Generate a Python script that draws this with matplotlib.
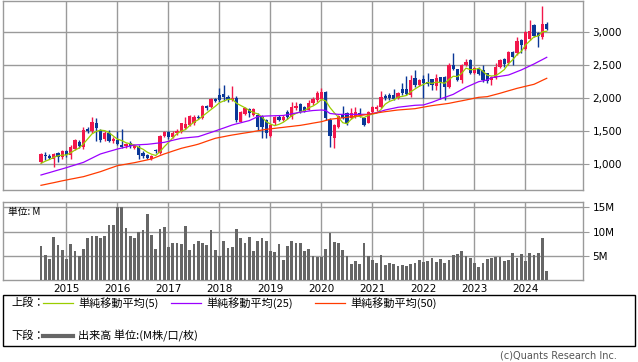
import numpy as np
import pandas as pd
import matplotlib
matplotlib.use('Agg')
import matplotlib.pyplot as plt
from matplotlib.lines import Line2D
from matplotlib.patches import Rectangle
from matplotlib.ticker import FuncFormatter

# monthly candles, 2014-07 .. 2024-06
opens = [1030, 1145, 1130, 1075, 1175, 1105,
         1200, 1140, 1235, 1345, 1260, 1530, 1500, 1630, 1520, 1380, 1480, 1360,
         1375, 1300, 1270, 1320, 1245, 1260, 1165, 1140, 1080, 1215, 1167, 1429,
         1495, 1409, 1470, 1495, 1545, 1590, 1621, 1722, 1697, 1884, 1874, 1985,
         2050, 2060, 2015, 1975, 2010, 1646, 1763, 1833, 1747, 1747, 1722, 1672,
         1430, 1620, 1722, 1672, 1798, 1722, 1848, 1914, 1874, 1830, 1924, 1975,
         1985, 2090, 1672, 1400, 1560, 1747, 1772, 1697, 1722, 1783, 1697, 1631,
         1798, 1834, 1864, 2040, 2050, 2050, 2010, 2136, 2136, 2050, 2303, 2202,
         2293, 2252, 2288, 2187, 2318, 2328, 2167, 2505, 2439, 2278, 2505, 2581,
         2389, 2444, 2429, 2379, 2278, 2303, 2480, 2591, 2530, 2707, 2682, 2884,
         2742, 2894, 3111, 2995, 2934, 3126]
highs = [1165, 1180, 1150, 1170, 1190, 1215,
         1215, 1290, 1380, 1370, 1570, 1570, 1720, 1695, 1540, 1510, 1520, 1410,
         1510, 1540, 1330, 1350, 1300, 1290, 1200, 1150, 1135, 1230, 1440, 1500,
         1510, 1500, 1530, 1630, 1712, 1745, 1740, 1745, 1900, 1900, 2000, 2000,
         2150, 2200, 2050, 2190, 2030, 1810, 1870, 1860, 1850, 1770, 1740, 1690,
         1610, 1725, 1740, 1740, 1820, 1950, 1950, 1935, 1890, 1970, 2015, 2115,
         2151, 2110, 1700, 1610, 1745, 1884, 1800, 1850, 1870, 1860, 1720, 1810,
         1890, 1900, 2116, 2070, 2080, 2136, 2090, 2227, 2338, 2353, 2429, 2300,
         2353, 2379, 2300, 2369, 2330, 2340, 2530, 2692, 2450, 2520, 2600, 2600,
         2470, 2480, 2505, 2390, 2340, 2530, 2600, 2610, 2720, 2720, 2934, 2900,
         3020, 3187, 3126, 3010, 3399, 3161]
lows = [1015, 1070, 1080, 965, 1040, 1080,
        1115, 1075, 1220, 1245, 1230, 1480, 1480, 1350, 1345, 1360, 1345, 1330,
        1290, 1240, 1240, 1250, 1230, 1080, 1100, 1080, 1070, 1170, 1150, 1420,
        1390, 1395, 1450, 1480, 1530, 1575, 1600, 1680, 1680, 1830, 1850, 1950,
        1940, 1960, 1950, 1960, 1640, 1640, 1745, 1715, 1730, 1520, 1400, 1400,
        1410, 1600, 1650, 1660, 1680, 1685, 1820, 1780, 1790, 1820, 1900, 1950,
        1970, 1670, 1268, 1250, 1545, 1680, 1600, 1680, 1700, 1720, 1580, 1620,
        1780, 1810, 1850, 1980, 1975, 1970, 1995, 2050, 2050, 2020, 2177, 2190,
        2010, 2187, 2126, 2126, 1985, 1975, 2150, 2430, 2260, 2237, 2490, 2369,
        2370, 2355, 2252, 2227, 2200, 2290, 2460, 2480, 2510, 2505, 2660, 2682,
        2730, 2880, 2930, 2783, 2900, 3030]
closes = [1150, 1120, 1100, 1160, 1115, 1200,
          1135, 1265, 1365, 1270, 1520, 1510, 1640, 1550, 1370, 1480, 1360, 1385,
          1310, 1265, 1315, 1280, 1290, 1140, 1120, 1090, 1125, 1195, 1429, 1495,
          1409, 1480, 1510, 1621, 1606, 1732, 1722, 1697, 1884, 1859, 1985, 1965,
          1975, 2015, 1975, 2000, 1665, 1798, 1848, 1773, 1833, 1570, 1570, 1480,
          1595, 1712, 1672, 1722, 1712, 1864, 1884, 1798, 1813, 1934, 1985, 2086,
          2100, 1697, 1430, 1596, 1732, 1697, 1621, 1772, 1798, 1747, 1596, 1798,
          1864, 1874, 2025, 2000, 2000, 1985, 2076, 2086, 2066, 2278, 2202, 2278,
          2227, 2217, 2202, 2303, 2252, 2167, 2505, 2444, 2278, 2505, 2555, 2389,
          2454, 2369, 2278, 2262, 2328, 2480, 2581, 2520, 2707, 2631, 2874, 2808,
          3010, 3020, 2944, 2944, 3126, 3045]
# closes of the 4 months before the first candle (for the 5-month average)
pre_close = [960, 975, 990, 1000]

# moving averages
ma25 = [838, 857, 875, 894, 913, 931,
        950, 970, 990, 1010, 1030, 1062, 1094, 1126, 1157, 1176, 1195, 1213,
        1232, 1247, 1262, 1278, 1293, 1296, 1300, 1303, 1310, 1318, 1325, 1333,
        1348, 1364, 1379, 1394, 1400, 1407, 1413, 1419, 1440, 1462, 1483, 1505,
        1528, 1550, 1573, 1596, 1613, 1629, 1646, 1662, 1692, 1722, 1727, 1732,
        1734, 1736, 1738, 1740, 1752, 1765, 1777, 1790, 1798, 1807, 1815, 1819,
        1823, 1815, 1770, 1763, 1757, 1757, 1757, 1757, 1757, 1757, 1757, 1757,
        1770, 1783, 1803, 1823, 1837, 1850, 1864, 1872, 1879, 1887, 1894, 1897,
        1899, 1920, 1940, 1965, 1990, 2013, 2037, 2060, 2096, 2131, 2167, 2195,
        2224, 2252, 2265, 2278, 2313, 2323, 2333, 2343, 2353, 2378, 2404, 2429,
        2459, 2490, 2520, 2554, 2587, 2621]
ma50 = [682, 695, 709, 722, 736, 750,
        763, 776, 788, 801, 813, 832, 851, 870, 889, 912, 935, 957,
        980, 991, 1002, 1014, 1025, 1039, 1053, 1067, 1081, 1106, 1132, 1157,
        1178, 1200, 1221, 1242, 1258, 1273, 1288, 1305, 1327, 1350, 1372, 1394,
        1407, 1419, 1432, 1444, 1454, 1465, 1475, 1485, 1496, 1508, 1519, 1530,
        1538, 1545, 1553, 1560, 1568, 1575, 1583, 1590, 1601, 1612, 1624, 1635,
        1646, 1664, 1682, 1690, 1697, 1705, 1712, 1721, 1730, 1739, 1748, 1757,
        1767, 1778, 1788, 1798, 1806, 1815, 1823, 1828, 1833, 1838, 1843, 1855,
        1866, 1878, 1889, 1898, 1906, 1915, 1924, 1937, 1950, 1962, 1975, 1988,
        2002, 2015, 2020, 2025, 2042, 2059, 2076, 2095, 2114, 2132, 2151, 2166,
        2182, 2197, 2212, 2242, 2273, 2303]

# volume, millions
volume = [7.1, 5.2, 4.4, 8.8, 7.3, 6.3,
          4.4, 7.5, 6.1, 5.0, 6.5, 8.6, 9.0, 9.0, 8.6, 9.0, 11.4, 11.4,
          15.1, 15.1, 10.8, 9.0, 8.6, 10.0, 10.4, 13.7, 9.4, 6.5, 10.6, 11.0,
          6.9, 7.7, 7.7, 7.5, 11.2, 6.3, 7.5, 8.1, 7.7, 7.3, 10.4, 6.3,
          5.0, 8.1, 6.7, 6.9, 10.6, 8.6, 7.7, 8.8, 6.1, 8.1, 8.6, 8.1,
          6.1, 5.9, 7.5, 4.2, 7.1, 8.1, 7.7, 7.7, 6.1, 6.5, 5.0, 4.8,
          4.8, 6.5, 9.8, 7.9, 7.7, 6.3, 5.0, 3.4, 4.0, 3.4, 7.7, 5.0,
          4.2, 3.6, 5.2, 3.2, 3.6, 3.4, 3.0, 3.2, 3.0, 3.4, 3.6, 4.2,
          3.8, 4.0, 4.6, 3.8, 4.4, 3.6, 4.2, 5.2, 5.4, 6.1, 5.0, 4.6,
          3.6, 2.8, 3.6, 4.4, 4.6, 4.8, 4.8, 4.0, 4.2, 5.7, 4.6, 5.4,
          4.0, 5.7, 5.2, 5.7, 8.6, 1.9]

years = [2015, 2016, 2017, 2018, 2019, 2020, 2021, 2022, 2023, 2024]

W, H = 638, 362
def fx(px):
    return px / W
def fy(py):
    return 1 - py / H

RED = '#f2174b'
BLUE = '#0a3797'
GRID = '#9a9a9a'
cjk = ['Noto Sans CJK JP', 'DejaVu Sans']

o = np.array(opens, float)
c = np.array(closes, float)
hi = np.array(highs, float)
lo = np.array(lows, float)
x = np.arange(len(c))
cols = np.where(c >= o, RED, BLUE)
ma5 = pd.Series(pre_close + closes, dtype=float).rolling(5).mean().values[len(pre_close):]
year_pos = [6 + 12 * k for k in range(len(years))]
xmin, xmax = -8.94, 127.46

fig = plt.figure(figsize=(6.38, 3.62), dpi=100)
ax = fig.add_axes([fx(3), fy(190), fx(582.7) - fx(3), (190 - 1) / H])
axv = fig.add_axes([fx(3), fy(280.3), fx(582.7) - fx(3), (280.3 - 201.7) / H])

# candles
ax.vlines(x, lo, hi, color=cols, lw=1, zorder=3)
body_h = np.maximum(np.abs(c - o), 8)
ax.bar(x, body_h, bottom=np.minimum(o, c), width=0.72, color=cols, linewidth=0, zorder=3)
ax.plot(x, ma5, color='#9acd00', lw=0.9, zorder=4)
ax.plot(x, ma25, color='#9b00ff', lw=0.9, zorder=4)
ax.plot(x, ma50, color='#ff3b00', lw=0.9, zorder=4)

ax.set_xlim(xmin, xmax)
ax.set_ylim(611, 3474)
ax.set_xticks(year_pos)
ax.set_xticklabels([])
ax.set_yticks([1000, 1500, 2000, 2500, 3000])
ax.yaxis.set_major_formatter(FuncFormatter(lambda v, p: f'{v:,.0f}'))
ax.yaxis.tick_right()
ax.tick_params(axis='x', length=0)
ax.tick_params(axis='y', length=4, color=GRID, labelsize=7.5, pad=3)
ax.grid(color=GRID, lw=1, zorder=0)

# volume
axv.bar(x, volume, width=0.62, color='#666666', zorder=3)
axv.set_xlim(xmin, xmax)
axv.set_ylim(0, 16.15)
axv.set_xticks(year_pos)
axv.set_xticklabels([str(y) for y in years])
axv.set_yticks([5, 10, 15])
axv.set_yticklabels(['5M', '10M', '15M'])
axv.yaxis.tick_right()
axv.tick_params(axis='x', length=0, labelsize=7.5, pad=3)
axv.tick_params(axis='y', length=4, color=GRID, labelsize=7.5, pad=3)
axv.grid(color=GRID, lw=1, zorder=0)
axv.text(0.008, 0.93, '単位: M', transform=axv.transAxes, fontsize=7,
         va='top', ha='left', family=cjk, zorder=5)

for a in (ax, axv):
    a.set_axisbelow(True)
    for s in a.spines.values():
        s.set_color(GRID)
        s.set_linewidth(1)

# legend box
fig.add_artist(Rectangle((fx(3), fy(346)), fx(635) - fx(3), (346 - 295) / H,
                         transform=fig.transFigure, fill=False, ec='black', lw=1))
fig.text(fx(11), fy(303), '上段：', fontsize=8, va='center', family=cjk)
leg = [(43, '#9acd00', '単純移動平均(5)'),
       (171, '#9b00ff', '単純移動平均(25)'),
       (315, '#ff3b00', '単純移動平均(50)')]
for x0, col, lab in leg:
    fig.add_artist(Line2D([fx(x0), fx(x0 + 30)], [fy(303), fy(303)], color=col, lw=0.9,
                          transform=fig.transFigure))
    fig.text(fx(x0 + 35), fy(303), lab, fontsize=8, va='center', family=cjk)
fig.text(fx(11), fy(336), '下段：', fontsize=8, va='center', family=cjk)
fig.add_artist(Line2D([fx(43), fx(73)], [fy(336), fy(336)], color='#666666', lw=3,
                      transform=fig.transFigure))
fig.text(fx(78), fy(336), '出来高 単位:(M株/口/枚)', fontsize=8, va='center', family=cjk)

fig.text(fx(617), fy(356), '(c)Quants Research Inc.', fontsize=7, ha='right',
         va='center', color='#555555')

fig.savefig('out.png', dpi=100)
